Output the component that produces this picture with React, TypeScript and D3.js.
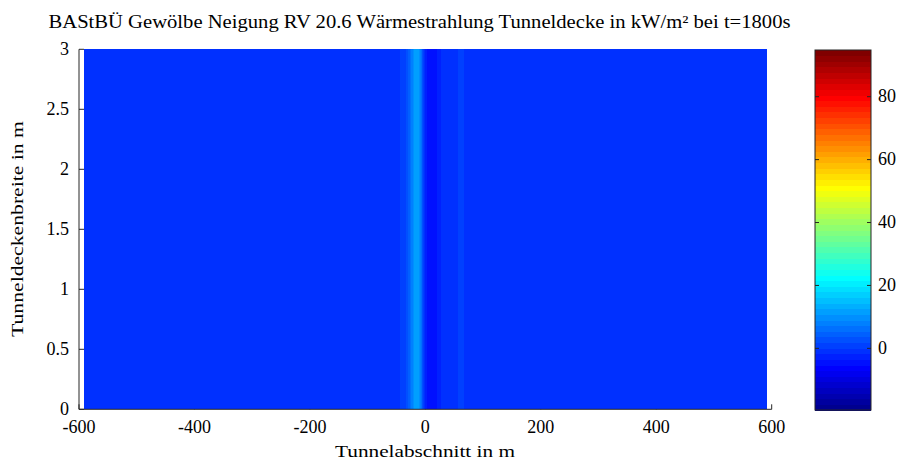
import React from "react";
import * as d3 from "d3";

const titleText = "BAStBÜ Gewölbe Neigung RV 20.6 Wärmestrahlung Tunneldecke in kW/m² bei t=1800s";
const xLabel = "Tunnelabschnitt in m";
const yLabel = "Tunneldeckenbreite in m";

const xTicks = [-600, -400, -200, 0, 200, 400, 600];
const yTicks = [0, 0.5, 1, 1.5, 2, 2.5, 3];
const cTicks = [0, 20, 40, 60, 80];

// tunnel position (m) and radiation (kW/m²) along the ceiling
const profileX = [-592, -48, -44, -36, -32, -28, -24, -20, -17, -13, -10, -7, -4, -1, 2, 5, 10, 16, 22, 27, 30, 52, 56, 66, 70, 592];
const profileV = [-0.8, -0.8, 0.3, 1.0, 2.5, 5, 8, 10.5, 12, 12, 10.5, 6, 1, -2, -3.5, -4.5, -4.5, -4.5, -3, -1.5, -0.8, -0.8, 0.1, 0.1, -0.8, -0.8];
// ceiling width extent (m)
const widthY = [0, 3];
const colorDomain = [-19.6, 94.85];

function jet(m: number): string[] {
  const n = Math.ceil(m / 4);
  const u: number[] = [];
  for (let i = 1; i <= n; i++) u.push(i / n);
  for (let i = 1; i < n; i++) u.push(1);
  for (let i = n; i >= 1; i--) u.push(i / n);
  const base = Math.ceil(n / 2) - (m % 4 === 1 ? 1 : 0);
  const J = Array.from({ length: m }, () => [0, 0, 0]);
  u.forEach((val, k) => {
    const g = base + k + 1;
    const r = g + n;
    const b = g - n;
    if (r >= 1 && r <= m) J[r - 1][0] = val;
    if (g >= 1 && g <= m) J[g - 1][1] = val;
    if (b >= 1 && b <= m) J[b - 1][2] = val;
  });
  return J.map(([r, g, b]) => d3.rgb(r * 255, g * 255, b * 255).formatHex());
}

const JET = jet(64);
const FONT = "Liberation Serif, Times New Roman, serif";

export default function App() {
  const W = 902, H = 462;
  const x = d3.scaleLinear().domain([-600, 600]).range([79, 771.7]);
  const y = d3.scaleLinear().domain([0, 3]).range([409.3, 49.3]);
  const prof = d3.scaleLinear().domain(profileX).range(profileV).clamp(true);
  const cq = d3.scaleQuantize<string>().domain(colorDomain).range(JET);
  const cbY = d3.scaleLinear().domain(colorDomain).range([410, 50]);

  // columns (interpolated shading)
  const x0 = x(profileX[0]);
  const x1 = x(profileX[profileX.length - 1]);
  const runs: { a: number; b: number; c: string }[] = [];
  for (let px = x0; px < x1; px += 0.5) {
    const m = x.invert(Math.min(px + 0.25, x1));
    const c = cq(prof(m));
    const last = runs[runs.length - 1];
    const end = Math.min(px + 0.5, x1);
    if (last && last.c === c) last.b = end;
    else runs.push({ a: px, b: end, c });
  }

  const axisColor = "#262626";

  const cbBands = JET.map((c, i) => {
    const v0 = colorDomain[0] + ((colorDomain[1] - colorDomain[0]) * i) / 64;
    const v1 = colorDomain[0] + ((colorDomain[1] - colorDomain[0]) * (i + 1)) / 64;
    return { c, y0: cbY(v1), y1: cbY(v0) };
  });

  const txt = { fontFamily: FONT, fill: "#000" } as const;

  return (
    <svg width={W} height={H} style={{ position: "absolute", left: 0, top: 0, background: "#fff" }}>
      <rect x={0} y={0} width={W} height={H} fill="#fff" />
      {/* ticks under data */}
      {xTicks.map((t) => (
        <line key={"xt" + t} x1={x(t)} x2={x(t)} y1={y(0)} y2={y(0) - 5} stroke={axisColor} />
      ))}
      {yTicks.map((t) => (
        <line key={"yt" + t} x1={x(-600)} x2={x(-600) + 5} y1={y(t)} y2={y(t)} stroke={axisColor} />
      ))}
      {/* heatmap */}
      {runs.map((r, i) => (
        <rect key={i} x={r.a} y={y(widthY[1])} width={r.b - r.a + 0.3} height={y(widthY[0]) - y(widthY[1])} fill={r.c} shapeRendering="crispEdges" />
      ))}
      {/* axes lines */}
      <line x1={x(-600)} x2={x(600)} y1={y(0)} y2={y(0)} stroke={axisColor} strokeWidth={1} />
      <line x1={x(-600)} x2={x(-600)} y1={y(0)} y2={y(3)} stroke={axisColor} strokeWidth={1} />
      {xTicks.map((t) => (
        <text key={"xl" + t} x={x(t)} y={433} textAnchor="middle" fontSize={18} {...txt}>
          {t}
        </text>
      ))}
      {yTicks.map((t) => (
        <text key={"yl" + t} x={69} y={y(t) + 5.5} textAnchor="end" fontSize={18} {...txt}>
          {t}
        </text>
      ))}
      <text x={425} y={457} textAnchor="middle" fontSize={17.5} textLength={180} lengthAdjust="spacingAndGlyphs" {...txt}>
        {xLabel}
      </text>
      <text transform={`translate(23,229) rotate(-90)`} textAnchor="middle" fontSize={17.5} textLength={216} lengthAdjust="spacingAndGlyphs" {...txt}>
        {yLabel}
      </text>
      <text x={419.5} y={28} textAnchor="middle" fontSize={18} textLength={742} lengthAdjust="spacingAndGlyphs" {...txt}>
        {titleText}
      </text>
      {/* colorbar */}
      {cbBands.map((b, i) => (
        <rect key={"cb" + i} x={815} y={b.y0} width={56} height={b.y1 - b.y0 + 0.5} fill={b.c} shapeRendering="crispEdges" />
      ))}
      <rect x={815} y={50} width={56} height={360} fill="none" stroke={axisColor} strokeWidth={1} />
      {cTicks.map((t) => (
        <g key={"ct" + t}>
          <line x1={815} x2={819} y1={cbY(t)} y2={cbY(t)} stroke={axisColor} />
          <line x1={867} x2={871} y1={cbY(t)} y2={cbY(t)} stroke={axisColor} />
          <text x={878} y={cbY(t) + 5.5} fontSize={18} {...txt}>
            {t}
          </text>
        </g>
      ))}
    </svg>
  );
}
